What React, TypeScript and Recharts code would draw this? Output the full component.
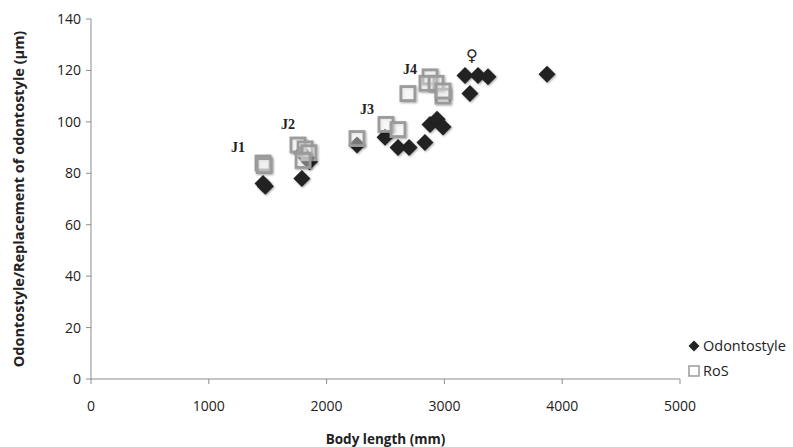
import { ScatterChart, Scatter, XAxis, YAxis, ReferenceDot } from 'recharts';

// Odontostyle length vs body length
const odontostyle = [
  { x: 1460, y: 76 },
  { x: 1480, y: 75 },
  { x: 1790, y: 78 },
  { x: 1790, y: 88 },
  { x: 1830, y: 86 },
  { x: 1855, y: 84.5 },
  { x: 2258, y: 91 },
  { x: 2496, y: 94 },
  { x: 2606, y: 90 },
  { x: 2700, y: 90 },
  { x: 2835, y: 92 },
  { x: 2878, y: 99 },
  { x: 2937, y: 101 },
  { x: 2988, y: 98 },
  { x: 3175, y: 118 },
  { x: 3285, y: 118 },
  { x: 3370, y: 117.5 },
  { x: 3217, y: 111 },
  { x: 3871, y: 118.5 },
];

// replacement of odontostyle
const ros = [
  { x: 1460, y: 84 },
  { x: 1470, y: 83 },
  { x: 1757, y: 91 },
  { x: 1817, y: 89.5 },
  { x: 1850, y: 88 },
  { x: 1800, y: 85 },
  { x: 2258, y: 93.5 },
  { x: 2504, y: 99 },
  { x: 2606, y: 97 },
  { x: 2690, y: 111 },
  { x: 2878, y: 117.5 },
  { x: 2852, y: 115 },
  { x: 2929, y: 115 },
  { x: 2988, y: 110 },
  { x: 2988, y: 112 },
];

const stageLabels = [
  { x: 1248, y: 90, text: 'J1' },
  { x: 1672, y: 99, text: 'J2' },
  { x: 2343, y: 105, text: 'J3' },
  { x: 2708, y: 120.5, text: 'J4' },
  { x: 3234, y: 126, text: '♀' },
];

const xTicks = [0, 1000, 2000, 3000, 4000, 5000];
const yTicks = [0, 20, 40, 60, 80, 100, 120, 140];

const font = '"Open Sans", Calibri, sans-serif';

const Diamond = (props: any) => {
  const { cx, cy } = props;
  const r = 8.5;
  return (
    <path
      d={`M${cx},${cy - r}L${cx + r},${cy}L${cx},${cy + r}L${cx - r},${cy}Z`}
      fill="#222"
      filter="url(#soft)"
    />
  );
};

const Square = (props: any) => {
  const { cx, cy } = props;
  const s = 14;
  return (
    <rect
      x={cx - s / 2}
      y={cy - s / 2}
      width={s}
      height={s}
      fill="#fff"
      fillOpacity={0.35}
      stroke="#9b9b9b"
      strokeWidth={2.8}
      filter="url(#soft)"
    />
  );
};

const StageLabel = (text: string) => (props: any) => {
  const { viewBox } = props;
  const isSym = text === '♀';
  return (
    <text
      x={viewBox.x}
      y={viewBox.y}
      textAnchor="middle"
      dominantBaseline="central"
      fontFamily={isSym ? '"DejaVu Sans", sans-serif' : '"Liberation Serif", "DejaVu Serif", serif'}
      fontWeight="bold"
      fontSize={isSym ? 16 : 14}
      fill="#222"
    >
      {text}
    </text>
  );
};

export default function App() {
  return (
    <div style={{ position: 'absolute', left: 0, top: 0, background: '#fff' }}>
      <ScatterChart width={793} height={447} margin={{ top: 19, right: 113, bottom: 0, left: 0 }}>
        <defs>
          <filter id="soft" x="-50%" y="-50%" width="200%" height="200%">
            <feGaussianBlur in="SourceAlpha" stdDeviation="1.2" />
            <feOffset dx="1" dy="1" result="b" />
            <feComponentTransfer>
              <feFuncA type="linear" slope="0.35" />
            </feComponentTransfer>
            <feMerge>
              <feMergeNode />
              <feMergeNode in="SourceGraphic" />
            </feMerge>
          </filter>
        </defs>
        <XAxis
          type="number"
          dataKey="x"
          domain={[0, 5000]}
          ticks={xTicks}
          height={68}
          stroke="#8c8c8c"
          tickSize={5}
          tickMargin={17}
          tick={{ fill: '#222', fontSize: 14, fontFamily: font }}
          label={{
            value: 'Body length (mm)',
            position: 'insideBottom',
            offset: 3,
            fill: '#222',
            fontSize: 13.5,
            fontWeight: 'bold',
            fontFamily: font,
          }}
        />
        <YAxis
          type="number"
          dataKey="y"
          domain={[0, 140]}
          ticks={yTicks}
          width={91}
          stroke="#8c8c8c"
          tickSize={5}
          tickMargin={5}
          tick={{ fill: '#222', fontSize: 14, fontFamily: font }}
          label={{
            value: 'Odontostyle/Replacement of odontostyle (µm)',
            angle: -90,
            position: 'insideLeft',
            offset: 19,
            style: { textAnchor: 'middle' },
            fill: '#222',
            fontSize: 14.5,
            fontWeight: 'bold',
            fontFamily: font,
          }}
        />
        <Scatter name="Odontostyle" data={odontostyle} shape={Diamond} isAnimationActive={false} />
        <Scatter name="RoS" data={ros} shape={Square} isAnimationActive={false} />
        {stageLabels.map((l) => (
          <ReferenceDot
            key={l.text}
            x={l.x}
            y={l.y}
            r={0}
            fill="none"
            stroke="none"
            label={StageLabel(l.text)}
          />
        ))}
      </ScatterChart>
      <div
        style={{
          position: 'absolute',
          left: 688,
          top: 333,
          fontFamily: font,
          fontSize: 14.5,
          color: '#222',
          lineHeight: '25px',
        }}
      >
        <div style={{ display: 'flex', alignItems: 'center' }}>
          <svg width={12} height={12} style={{ marginRight: 3 }}>
            <path d="M6,0.5L11.5,6L6,11.5L0.5,6Z" fill="#222" />
          </svg>
          Odontostyle
        </div>
        <div style={{ display: 'flex', alignItems: 'center' }}>
          <svg width={12} height={12} style={{ marginRight: 3 }}>
            <rect x={1} y={1} width={10} height={10} fill="#fff" stroke="#9b9b9b" strokeWidth={1.5} />
          </svg>
          RoS
        </div>
      </div>
    </div>
  );
}
